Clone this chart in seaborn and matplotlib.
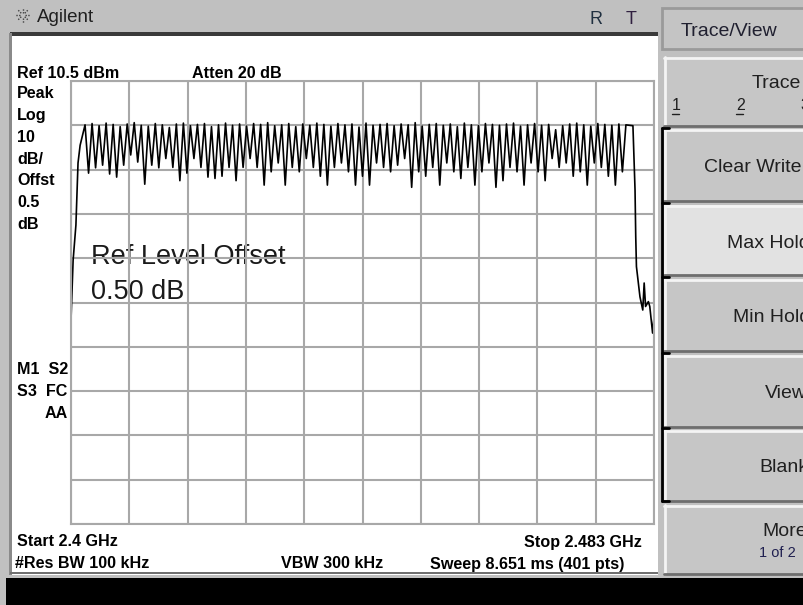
""" spectrum analyzer screen: max hold over 2.4 GHz band """

import matplotlib
matplotlib.use("Agg")
import matplotlib.pyplot as plt
from matplotlib.patches import Rectangle
import numpy as np
import pandas as pd
import seaborn as sns

# axis settings (GHz / dBm)
start_ghz = 2.4
stop_ghz = 2.483
ref_dbm = 10.5
db_per_div = 10

# rising edge before the first channel (MHz, dBm)
lo_edge_mhz = [2400.0, 2400.3, 2400.7, 2401.0, 2401.3]
lo_edge_dbm = [-43.5, -30.0, -22.0, -8.0, -4.0]

# max hold peaks, one per 1 MHz channel
chan_mhz = list(range(2402, 2481))
peak_dbm = [0.6, 0.9, 0.4, 1.0, 0.7, 0.2, 0.8, 1.1, 0.5, 0.3,
            0.9, 0.6, 0.0, 0.8, 1.0, 0.4, 0.7, 0.9, 0.2, 0.6,
            1.0, 0.5, 0.8, 0.3, 0.9, 0.7, 1.1, 0.4, 0.6, 0.9,
            0.2, 0.8, 0.5, 1.0, 0.7, 0.3, 0.9, 0.6, 0.8, 0.1,
            1.0, 0.5, 0.7, 0.9, 0.4, 0.8, 0.6, 1.1, 0.3, 0.7,
            0.9, 0.5, 0.8, 0.2, 1.0, 0.6, 0.4, 0.9, 0.7, 0.5,
            0.8, 1.0, 0.3, 0.6, 0.9, 0.5, 0.7, -0.5, 0.4, 0.8,
            1.0, 0.6, 0.3, 0.9, 0.7, 0.5, 0.8, 0.6, 0.4]
# dips between neighbouring channels
trough_dbm = [-10.3, -9.1, -8.5, -10.5, -11.2, -8.5, -6.2, -7.8, -12.8, -8.5,
              -9.1, -7.0, -9.0, -12.0, -10.3, -7.0, -9.0, -11.2, -11.5,
              -11.0, -9.0, -12.0, -9.0, -7.0, -9.0, -13.0, -10.0, -8.0, -13.0,
              -9.0, -10.0, -7.0, -9.0, -11.0, -13.0, -9.0, -8.0, -10.0, -13.0,
              -11.0, -13.0, -8.0, -9.0, -10.0, -8.5, -7.0, -13.5, -10.0, -11.0,
              -9.0, -13.0, -8.0, -10.0, -11.5, -9.0, -13.0, -10.0, -8.0, -13.5,
              -12.0, -9.0, -10.0, -13.0, -8.0, -10.0, -12.0, -7.0, -9.0, -8.0,
              -11.0, -10.0, -13.0, -8.0, -9.0, -11.0, -13.0, -10.0]

# roll-off after the last channel
hi_edge_mhz = [2480.3, 2480.4, 2480.5, 2481.0, 2481.4, 2481.6, 2481.8,
               2482.2, 2482.4, 2482.8, 2483.0]
hi_edge_dbm = [-14.1, -24.6, -31.4, -38.2, -41.2, -35.1, -40.4,
               -39.3, -40.4, -46.4, -42.7]

# build the trace
trace_mhz = list(lo_edge_mhz)
trace_dbm = list(lo_edge_dbm)
for i, f in enumerate(chan_mhz):
    trace_mhz.append(f)
    trace_dbm.append(peak_dbm[i])
    if i < len(trough_dbm):
        trace_mhz.append(f + 0.5)
        trace_dbm.append(trough_dbm[i])
trace_mhz += hi_edge_mhz
trace_dbm += hi_edge_dbm
df = pd.DataFrame({"ghz": np.array(trace_mhz) / 1000.0, "dbm": trace_dbm})

sns.set_style("white")
plt.rcParams['font.family'] = ['Liberation Sans', 'DejaVu Sans']

W, H = 804, 605
fig = plt.figure(figsize=(W / 100, H / 100), dpi=100, facecolor="#c0c0c0")

# background layer in pixel coordinates
bg = fig.add_axes([0, 0, 1, 1], zorder=0)
bg.set_xlim(0, W)
bg.set_ylim(H, 0)
bg.axis("off")

# screen panel
bg.add_patch(Rectangle((10, 33), 648, 542, facecolor="white",
                       edgecolor="none"))
bg.add_patch(Rectangle((10, 32), 648, 4, facecolor="#3a3a3a",
                       edgecolor="none"))
bg.add_patch(Rectangle((9, 33), 3, 542, facecolor="#8a8a8a",
                       edgecolor="none"))
bg.add_patch(Rectangle((10, 572), 648, 2, facecolor="#707070",
                       edgecolor="none"))
bg.add_patch(Rectangle((6, 578), W - 6, H - 578, facecolor="black",
                       edgecolor="none"))

# title bar
for ang in np.arange(0, 360, 45):
    r = np.radians(ang)
    bg.plot([23 + 2.5 * np.cos(r), 23 + 7.5 * np.cos(r)],
            [15 + 2.5 * np.sin(r), 15 + 7.5 * np.sin(r)],
            color="#404040", lw=1, ls=(0, (1, 1)))
bg.text(37, 17, "Agilent", fontsize=13.5, va="center", color="#202020")
bg.text(596, 19, "R", fontsize=13, va="center", ha="center",
        color="#203040")
bg.text(631, 19, "T", fontsize=13, va="center", ha="center",
        color="#302040")


def softkey(y0, y1, fill="#c6c6c6"):
    """ one softkey button """
    bg.add_patch(Rectangle((664, y0), W - 664, y1 - y0, facecolor=fill,
                           edgecolor="none"))
    bg.plot([664, W], [y0 + 1, y0 + 1], color="#f4f4f4", lw=2)
    bg.plot([665, 665], [y0, y1], color="#f4f4f4", lw=2)
    bg.plot([664, W], [y1, y1], color="#6e6e6e", lw=2)


# softkey menu
bg.add_patch(Rectangle((662, 8), W - 662, 41, facecolor="#c4c4c4",
                       edgecolor="#9a9a9a", lw=2))
bg.text(681, 31, "Trace/View", fontsize=14, va="center",
        color="#202030")
softkey(57, 126)
softkey(129, 201)
softkey(205, 275, fill="#e2e2e2")
softkey(279, 351)
softkey(355, 427)
softkey(430, 501)
softkey(505, 574)
bg.plot([662, 662], [128, 501], color="black", lw=2)
for yy in [128, 203, 277, 353, 428, 501]:
    bg.plot([662, 669], [yy, yy], color="black", lw=2)

key_font = dict(fontsize=14, va="center", color="#202020")
bg.text(752, 83, "Trace", **key_font)
bg.text(672, 105, "1", fontsize=11.5, va="center", color="#202020")
bg.text(736, 105, "2", fontsize=11.5, va="center", color="#202020")
bg.text(800, 105, "3", fontsize=11.5, va="center", color="#202020")
bg.plot([672, 679], [114, 114], color="#202020", lw=1)
bg.plot([736, 743], [114, 114], color="#202020", lw=1)
bg.text(704, 168, "Clear Write", **key_font)
bg.text(727, 243, "Max Hold", **key_font)
bg.text(733, 318, "Min Hold", **key_font)
bg.text(765, 393, "View", **key_font)
bg.text(759, 468, "Blank", **key_font)
bg.text(762, 531, "More", **key_font)
bg.text(759, 553, "1 of 2", fontsize=10.5, va="center", color="#202050")

# annotation texts on screen
lab = dict(fontsize=11.6, fontweight="bold", va="center", color="black")
bg.text(17, 74, "Ref 10.5 dBm", **lab)
bg.text(192, 74, "Atten 20 dB", **lab)
left_lines = ["Peak", "Log", "10", "dB/", "Offst", "0.5", "dB"]
for j, s in enumerate(left_lines):
    bg.text(17, 94 + j * 21.7, s, **lab)
bg.text(17, 369, "M1  S2", **lab)
bg.text(17, 392, "S3  FC", **lab)
bg.text(68, 414, "AA", ha="right", **lab)
bg.text(17, 542, "Start 2.4 GHz", **lab)
bg.text(642, 542, "Stop 2.483 GHz", ha="right", **lab)
bg.text(15, 564, "#Res BW 100 kHz", **lab)
bg.text(281, 564, "VBW 300 kHz", **lab)
bg.text(430, 564, "Sweep 8.651 ms (401 pts)", **lab)
bg.text(91, 257, "Ref Level Offset", fontsize=19.5, va="center",
        color="#1a1a1a")
bg.text(91, 292, "0.50 dB", fontsize=19.5, va="center", color="#1a1a1a")

# graticule + trace
x0, x1, y0, y1 = 71, 654, 81, 524
ax = fig.add_axes([x0 / W, 1 - y1 / H, (x1 - x0) / W, (y1 - y0) / H],
                  zorder=1)
ax.set_facecolor("none")
sns.lineplot(data=df, x="ghz", y="dbm", ax=ax, color="black", lw=1.2,
             sort=False, estimator=None, legend=False)
ax.set_xlim(start_ghz, stop_ghz)
ax.set_ylim(ref_dbm - 10 * db_per_div, ref_dbm)
ax.set_xticks(np.linspace(start_ghz, stop_ghz, 11))
ax.set_yticks(np.arange(ref_dbm - 10 * db_per_div, ref_dbm + 1, db_per_div))
ax.grid(True, color="#a8a8a8", lw=1.5)
ax.set_axisbelow(True)
ax.tick_params(length=0, labelbottom=False, labelleft=False)
ax.set_xlabel("")
ax.set_ylabel("")
for sp in ax.spines.values():
    sp.set_color("#a8a8a8")
    sp.set_linewidth(1.5)

fig.savefig("out.png", dpi=100, facecolor=fig.get_facecolor())
